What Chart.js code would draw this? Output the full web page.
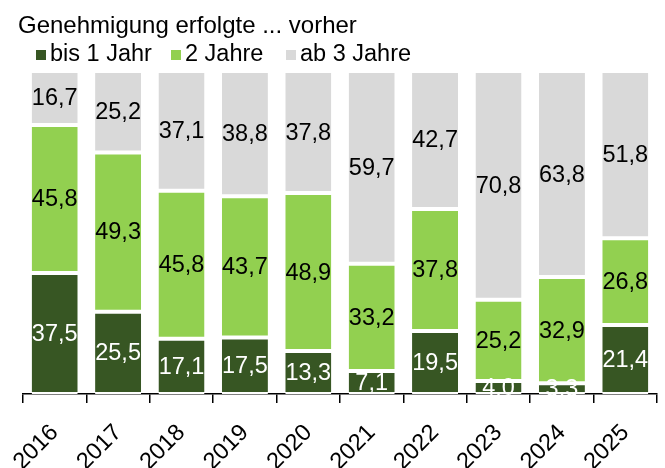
<!DOCTYPE html>
<html>
<head>
<meta charset="utf-8">
<script src="https://cdn.jsdelivr.net/npm/chart.js@4"></script>
<style>
  body { margin:0; background:#fff; font-family:"Liberation Sans", Arial, sans-serif; }
  #wrap { position:relative; width:665px; height:468px; }
  #chart { position:absolute; left:0; top:0; }
  .title { position:absolute; left:18px; top:11px; font-size:24px; line-height:27px; color:#000; white-space:nowrap; }
  .legend-item { position:absolute; top:40px; font-size:23.5px; line-height:27px; color:#000; white-space:nowrap; }
  .legend-box { display:inline-block; width:10px; height:10px; margin-right:4px; vertical-align:1px; }
</style>
</head>
<body>
<div id="wrap">
  <canvas id="chart" width="665" height="468"></canvas>
  <div class="title">Genehmigung erfolgte ... vorher</div>
  <div id="legend"></div>
</div>
<script>
const YEARS = ['2016','2017','2018','2019','2020','2021','2022','2023','2024','2025'];
const SERIES = ['bis 1 Jahr', '2 Jahre', 'ab 3 Jahre'];
const BIS_1 = [37.5, 25.5, 17.1, 17.5, 13.3, 7.1, 19.5, 4.0, 3.3, 21.4];
const JAHRE_2 = [45.8, 49.3, 45.8, 43.7, 48.9, 33.2, 37.8, 25.2, 32.9, 26.8];
const AB_3 = [16.7, 25.2, 37.1, 38.8, 37.8, 59.7, 42.7, 70.8, 63.8, 51.8];
const COLORS = ['#375623', '#92d050', '#d9d9d9'];
const LABEL_COLORS = ['#fff', '#000', '#000'];
const LEGEND_LEFT = [36, 171, 286];

// legend als HTML
document.getElementById('legend').innerHTML = SERIES.map((s, i) =>
  `<span class="legend-item" style="left:${LEGEND_LEFT[i]}px"><span class="legend-box" style="background:${COLORS[i]}"></span>${s}</span>`).join('');

const FONT = '"Liberation Sans", Arial, sans-serif';

// Werte mittig in die Segmente schreiben
const barLabels = {
  id: 'barLabels',
  afterDatasetsDraw(chart) {
    const ctx = chart.ctx;
    ctx.save();
    ctx.font = '23.5px ' + FONT;
    ctx.textAlign = 'center';
    ctx.textBaseline = 'middle';
    chart.data.datasets.forEach((ds, di) => {
      chart.getDatasetMeta(di).data.forEach((el, i) => {
        ctx.fillStyle = LABEL_COLORS[di];
        ctx.fillText(ds.data[i].toFixed(1).replace('.', ','), el.x, (el.y + el.base) / 2 + 1);
      });
    });
    ctx.restore();
  }
};

const mk = (label, data, i) => ({
  label, data, backgroundColor: COLORS[i],
  borderColor: '#fff', borderWidth: {top:2, bottom:2, left:0, right:0}, borderSkipped: false,
  barPercentage: 0.726, categoryPercentage: 1
});

new Chart(document.getElementById('chart'), {
  type: 'bar',
  data: { labels: YEARS, datasets: [mk(SERIES[0], BIS_1, 0), mk(SERIES[1], JAHRE_2, 1), mk(SERIES[2], AB_3, 2)] },
  options: {
    responsive: false, animation: false,
    layout: { padding: { top: 71, left: 23, right: 8, bottom: 0 } },
    plugins: { legend: { display: false }, tooltip: { enabled: false } },
    scales: {
      x: {
        stacked: true,
        afterFit: s => { s.height = 74; },
        grid: { display: true, drawOnChartArea: false, drawTicks: true, tickLength: 9, color: '#000', lineWidth: 1.5 },
        border: { display: true, color: '#000', width: 1.5 },
        ticks: { color: '#000', font: { family: FONT, size: 23.5 }, minRotation: 45, maxRotation: 45, padding: 16 }
      },
      y: { stacked: true, display: false, min: 0, max: 100 }
    }
  },
  plugins: [barLabels]
});
</script>
</body>
</html>
